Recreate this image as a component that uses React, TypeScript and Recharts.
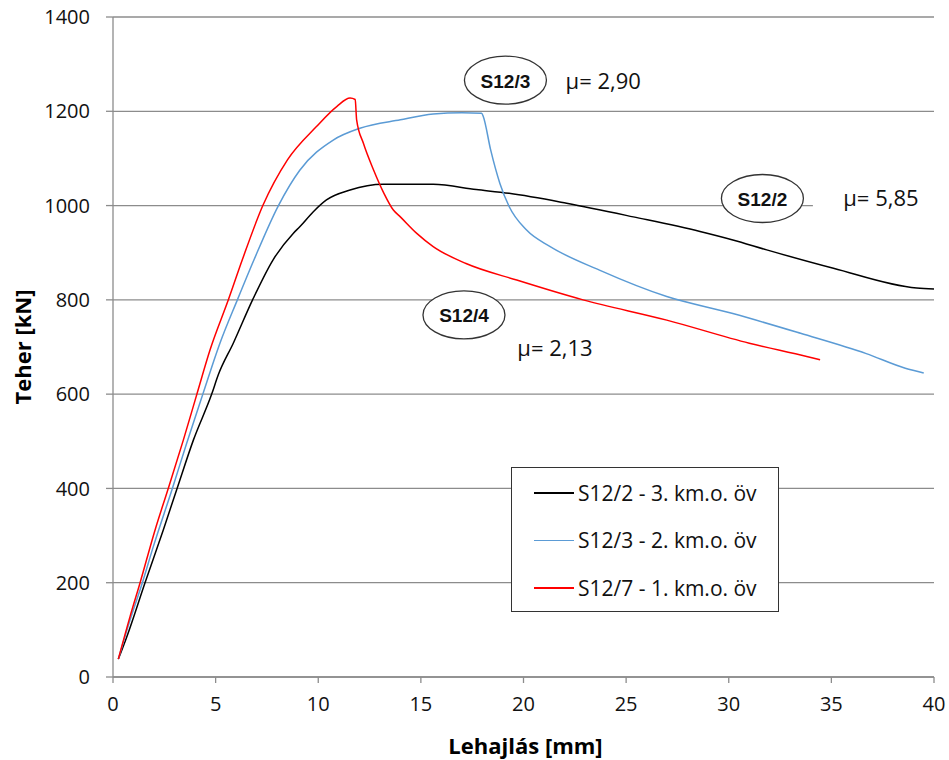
import { LineChart, Line, XAxis, YAxis, CartesianGrid, Legend, ReferenceDot, ReferenceArea } from 'recharts';

const xTicks = [0, 5, 10, 15, 20, 25, 30, 35, 40];
const yTicks = [0, 200, 400, 600, 800, 1000, 1200, 1400];

// S12/2 - 3. km.o. öv (black)
const s2X = [0.26, 0.67, 1.56, 2.45, 3.13, 3.92, 4.8, 5.13, 5.86, 6.8, 7.8, 8.78, 9.1, 9.76, 10.4, 11.55, 13.17, 15.6, 17.7, 19.3, 22.1, 25.35, 28.6, 30.2, 31.85, 35.1, 39.16, 40];
const s2Y = [38, 85, 200, 312, 401, 503, 599, 641, 708, 800, 885, 941, 955, 987, 1012, 1033, 1045, 1045, 1034, 1026, 1005, 976, 945, 927, 906, 867, 825, 823];

// S12/3 - 2. km.o. öv (blue)
const s3X = [0.26, 0.83, 1.43, 1.96, 2.9, 3.59, 4.37, 5.21, 6.06, 6.87, 8.06, 9.1, 10.73, 12.03, 14.0, 15.6, 17.0, 17.96, 18.04, 18.4, 18.85, 19.3, 20.15, 21.3, 23.7, 26.98, 30.2, 33.5, 36.7, 38.6, 39.5];
const s3Y = [38, 121, 200, 276, 401, 496, 599, 708, 800, 885, 1000, 1075, 1139, 1164, 1182, 1194, 1197, 1196, 1189, 1118, 1047, 998, 948, 913, 863, 807, 771, 729, 686, 655, 645];

// S12/7 - 1. km.o. öv (red)
const s7X = [0.26, 0.83, 1.32, 2.05, 2.7, 3.43, 4.08, 4.73, 5.62, 6.3, 7.3, 8.5, 9.9, 10.9, 11.55, 11.8, 11.87, 12.2, 12.7, 13.2, 13.65, 14.0, 14.8, 15.6, 17.2, 19.67, 22.9, 26.98, 31.0, 33.8, 34.45];
const s7Y = [38, 128, 200, 312, 401, 503, 599, 694, 800, 885, 1000, 1097, 1167, 1210, 1228, 1225, 1182, 1132, 1075, 1026, 991, 976, 941, 913, 877, 842, 800, 757, 708, 680, 673];

const toPts = (xs: number[], ys: number[]) => xs.map((x, i) => ({ x, y: ys[i] }));

const series = [
  { name: 'S12/2 - 3. km.o. öv', color: '#000000', data: toPts(s2X, s2Y) },
  { name: 'S12/3 - 2. km.o. öv', color: '#5b9bd5', data: toPts(s3X, s3Y) },
  { name: 'S12/7 - 1. km.o. öv', color: '#ff0000', data: toPts(s7X, s7Y) },
];

const bubbles = [
  { label: 'S12/3', x: 19.12, y: 1266 },
  { label: 'S12/2', x: 31.64, y: 1015 },
  { label: 'S12/4', x: 17.1, y: 768 },
];

const muLabels = [
  { text: 'μ= 2,90', x: 22.05, y: 1266 },
  { text: 'μ= 5,85', x: 35.58, y: 1019 },
  { text: 'μ= 2,13', x: 19.7, y: 701 },
];

const FONT = '"Open Sans", sans-serif';
const GRID = '#8c8c8c';

const bubbleShape = (label: string) => (props: any) => (
  <g>
    <ellipse cx={props.cx} cy={props.cy} rx={41} ry={24} fill="#fff" stroke="#333" strokeWidth={1.3} />
    <text x={props.cx} y={props.cy + 1} textAnchor="middle" dominantBaseline="central"
      style={{ fontFamily: '"Liberation Sans Narrow", "Liberation Sans", sans-serif', fontWeight: 'bold', fontSize: 19, fill: '#111' }}>
      {label}
    </text>
  </g>
);

const muShape = (text: string) => (props: any) => (
  <text x={props.cx} y={props.cy} textAnchor="start" dominantBaseline="central"
    style={{ fontFamily: FONT, fontSize: 22, fill: '#111' }}>
    {text}
  </text>
);

const renderLegend = (props: any) => (
  <div style={{ boxSizing: 'border-box', width: 268, height: 145, border: '1.5px solid #333', background: '#fff', paddingTop: 1 }}>
    {(props.payload || []).map((entry: any) => (
      <div key={entry.value} style={{ display: 'flex', alignItems: 'center', height: 47.5, paddingLeft: 22 }}>
        <span style={{ display: 'inline-block', width: 40, height: 1.5, background: entry.color, marginRight: 4 }} />
        <span style={{ fontFamily: FONT, fontSize: 21, color: '#111' }}>{entry.value}</span>
      </div>
    ))}
  </div>
);

export default function App() {
  return (
    <div style={{ position: 'absolute', left: 0, top: 0, width: 949, height: 760, background: '#fff' }}>
      <LineChart width={949} height={760} margin={{ top: 17, right: 15, left: 0, bottom: 0 }}>
        <CartesianGrid vertical={false} stroke={GRID} strokeWidth={1.3} />
        <XAxis
          type="number" dataKey="x" domain={[0, 40]} ticks={xTicks} height={83}
          axisLine={{ stroke: GRID, strokeWidth: 1.3 }} tickLine={{ stroke: GRID, strokeWidth: 1.3 }}
          tickSize={6} tickMargin={14}
          tick={{ fontFamily: FONT, fontSize: 20, fill: '#111' }}
          label={(p: any) => (
            <text x={p.viewBox.x + p.viewBox.width / 2 + 2} y={p.viewBox.y + 68} textAnchor="middle" dominantBaseline="central"
              style={{ fontFamily: FONT, fontSize: 22, fontWeight: 'bold', fill: '#000' }}>
              Lehajlás [mm]
            </text>
          )}
        />
        <YAxis
          type="number" domain={[0, 1400]} ticks={yTicks} width={113}
          axisLine={{ stroke: GRID, strokeWidth: 1.3 }} tickLine={{ stroke: GRID, strokeWidth: 1.3 }}
          tickSize={7} tickMargin={16}
          tick={{ fontFamily: FONT, fontSize: 20, fill: '#111' }}
          label={(p: any) => {
            const cx = p.viewBox.x + 22;
            const cy = p.viewBox.y + p.viewBox.height / 2;
            return (
              <text x={cx} y={cy} transform={`rotate(-90 ${cx} ${cy})`} textAnchor="middle" dominantBaseline="central"
                style={{ fontFamily: FONT, fontSize: 22, fontWeight: 'bold', fill: '#000' }}>
                Teher [kN]
              </text>
            );
          }}
        />
        <ReferenceArea x1={34.1} x2={40} y1={990} y2={1040} fill="#fff" fillOpacity={1} stroke="none" />
        {series.map((s) => (
          <Line key={s.name} data={s.data} dataKey="y" name={s.name} type="monotone" stroke={s.color}
            strokeWidth={1.5} dot={false} activeDot={false} isAnimationActive={false} />
        ))}
        {bubbles.map((b) => (
          <ReferenceDot key={b.label} x={b.x} y={b.y} r={0} shape={bubbleShape(b.label)} />
        ))}
        {muLabels.map((m) => (
          <ReferenceDot key={m.text} x={m.x} y={m.y} r={0} shape={muShape(m.text)} />
        ))}
        <Legend layout="vertical" align="center" verticalAlign="middle" content={renderLegend}
          wrapperStyle={{ left: 511, top: 467, width: 268, height: 145 }} />
      </LineChart>
    </div>
  );
}
